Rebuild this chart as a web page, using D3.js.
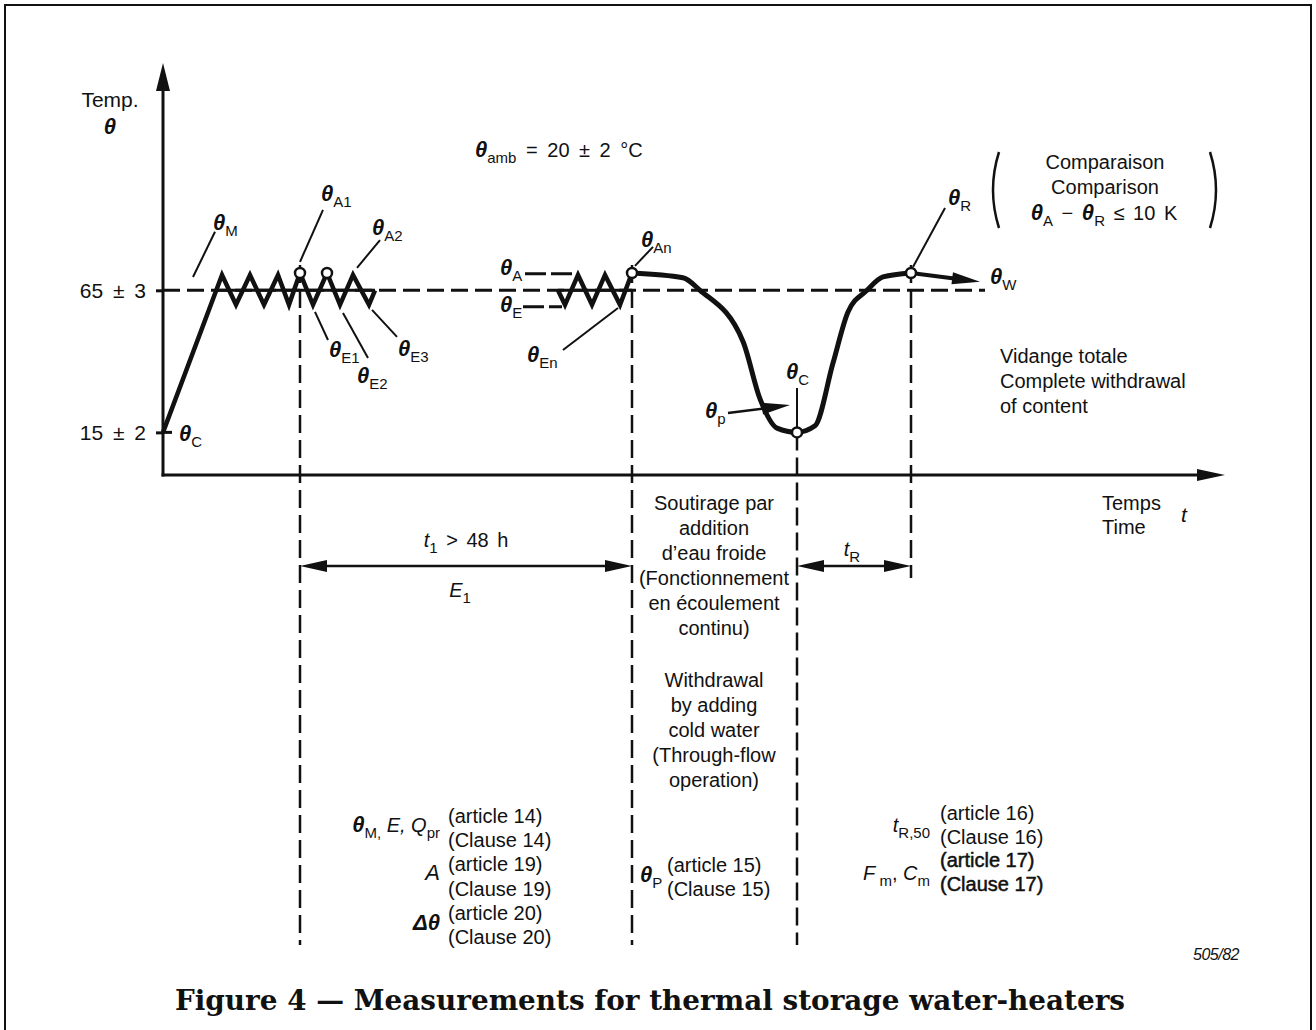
<!DOCTYPE html>
<html>
<head>
<meta charset="utf-8">
<script src="https://cdn.jsdelivr.net/npm/d3@7"></script>
<style>
    body { margin: 0; background: #fff; }
    text { font-family: "Liberation Sans", Arial, sans-serif; fill: #111; }
</style>
</head>
<body>
<svg id="chart" width="1316" height="1030"></svg>
<script>
// Levels marked on the temperature axis
const levelValues = [65, 15];
const levelLabels = ["65 ± 3", "15 ± 2"];

// Heating up from cold water, then thermostat cycling (time in arbitrary units, temp in °C)
const heatTime = [0, 5.9, 7.3, 8.7, 10.1, 11.5, 12.6, 13.7, 15.0, 16.4, 17.7, 19.0, 20.6, 21.2];
const heatTemp = [15, 70.4, 59.9, 70.4, 59.9, 70.4, 59.9, 71.1, 59.9, 71.1, 59.9, 70.4, 59.9, 65];

// Last cycles before the draw-off (after t1 > 48 h)
const cycleTime = [39.5, 40.2, 41.5, 42.9, 44.2, 45.7, 46.9];
const cycleTemp = [65, 59.9, 70.4, 59.9, 70.4, 59.9, 71.1];

// Draw-off by adding cold water, then recovery
const drawTime = [46.9, 52.0, 53.7, 58.0, 59.7, 61.4, 63.4, 65.2, 67.0, 68.5, 70.4, 72.0, 74.8];
const drawTemp = [71.1, 69.4, 65, 47.0, 26.8, 16.5, 15, 17.3, 39.4, 57.4, 65, 69.7, 71.1];

// theta W continuation
const tailTime = [74.8, 81.7];
const tailTemp = [71.1, 68.0];

// Measured points (circles)
const markTime = [13.7, 16.4, 46.9, 74.8, 63.4];
const markTemp = [71.1, 71.1, 71.1, 71.1, 15];

// Reference instants (vertical dashed lines): start temperature, long or short
const eventTime = [13.7, 46.9, 63.4, 74.8];
const eventFrom = [73.9, 73.9, 15, 73.9];
const eventLong = [true, true, true, false];

const svg = d3.select("#chart");
const ink = "#111";

const x = d3.scaleLinear().domain([0, 106.2]).range([163, 1225]);
const y = d3.scaleLinear().domain([0, 145]).range([475, 63]);

const bottomY = 945;   // lower end of the long reference lines
const dimY = 566;      // dimension arrows
const shortY = 578;    // lower end of the t_R line

// frame
svg.append("path")
    .attr("d", "M5,1030V5H1311V1030")
    .attr("fill", "none").attr("stroke", ink).attr("stroke-width", 2);

function head(g, tx, ty, ang, len, half) {
    const ca = Math.cos(ang), sa = Math.sin(ang);
    const bx = tx - len * ca, by = ty - len * sa;
    g.append("path")
        .attr("d", `M${tx},${ty}L${bx - half * sa},${by + half * ca}L${bx + half * sa},${by - half * ca}Z`)
        .attr("fill", ink);
}

/**
 * text made of segments: [string, kind] with kind "" | "sym" | "it" | "sub"
 */
function rich(g, px, py, segs, anchor = "start", size = 20) {
    const t = g.append("text")
        .attr("x", px).attr("y", py)
        .attr("text-anchor", anchor)
        .style("font-size", size + "px");
    let shift = 0;
    segs.forEach(([str, kind]) => {
        const sp = t.append("tspan").text(str);
        const want = kind === "sub" ? 6 : 0;
        if (want !== shift) {
            sp.attr("dy", want - shift);
            shift = want;
        }
        if (kind === "sym") sp.style("font-weight", "bold").style("font-style", "italic").style("font-size", (size + 2) + "px");
        if (kind === "it") sp.style("font-style", "italic");
        if (kind === "sub") sp.style("font-size", Math.round(size * 0.75) + "px");
    });
    return t;
}

const g = svg.append("g");

// axes
g.append("line")
    .attr("x1", x(0)).attr("x2", x(0))
    .attr("y1", y(0) + 1.5).attr("y2", y(145) + 20)
    .attr("stroke", ink).attr("stroke-width", 3);
head(g, x(0), y(145), -Math.PI / 2, 28, 7);

g.append("line")
    .attr("x1", x(0) - 1.5).attr("x2", x(106.2) - 20)
    .attr("y1", y(0)).attr("y2", y(0))
    .attr("stroke", ink).attr("stroke-width", 3);
head(g, x(106.2), y(0), 0, 28, 6);

const yAxis = d3.axisLeft(y)
    .tickValues(levelValues)
    .tickFormat((d, i) => levelLabels[i])
    .tickSize(7)
    .tickPadding(10);
const ga = g.append("g").attr("transform", `translate(${x(0)},0)`).call(yAxis);
ga.select(".domain").remove();
ga.selectAll(".tick line").attr("stroke", ink).attr("stroke-width", 3);
ga.selectAll(".tick text")
    .attr("fill", ink)
    .style("font-family", '"Liberation Sans", Arial, sans-serif')
    .style("font-size", "21px")
    .style("word-spacing", "4px");
// tick at 15 crosses the axis
g.append("line")
    .attr("x1", x(0)).attr("x2", x(0) + 9)
    .attr("y1", y(15)).attr("y2", y(15))
    .attr("stroke", ink).attr("stroke-width", 3);

// 65 level, dashed
g.append("line")
    .attr("x1", x(0)).attr("x2", x(82.2))
    .attr("y1", y(65)).attr("y2", y(65))
    .attr("stroke", ink).attr("stroke-width", 3)
    .attr("stroke-dasharray", "17,7");
[[5.2, 21.2], [39.5, 46.9]].forEach(([a, b]) => {
    g.append("line")
        .attr("x1", x(a)).attr("x2", x(b))
        .attr("y1", y(65)).attr("y2", y(65))
        .attr("stroke", ink).attr("stroke-width", 3);
});

// reference lines
eventTime.forEach((t, i) => {
    g.append("line")
        .attr("x1", x(t)).attr("x2", x(t))
        .attr("y1", y(eventFrom[i])).attr("y2", eventLong[i] ? bottomY : shortY)
        .attr("stroke", ink).attr("stroke-width", 2.5)
        .attr("stroke-dasharray", "18,7");
});

// curves
const straight = d3.line().x(d => x(d[0])).y(d => y(d[1]));
const smooth = d3.line().x(d => x(d[0])).y(d => y(d[1])).curve(d3.curveMonotoneX);

g.append("path")
    .attr("d", straight(d3.zip(heatTime, heatTemp)))
    .attr("fill", "none").attr("stroke", ink).attr("stroke-width", 4.5)
    .attr("stroke-linejoin", "miter");
g.append("path")
    .attr("d", straight(d3.zip(cycleTime, cycleTemp)))
    .attr("fill", "none").attr("stroke", ink).attr("stroke-width", 4.5)
    .attr("stroke-linejoin", "miter");
g.append("path")
    .attr("d", smooth(d3.zip(drawTime, drawTemp)))
    .attr("fill", "none").attr("stroke", ink).attr("stroke-width", 5)
    .attr("stroke-linecap", "round");

// theta W arrow
{
    const x1 = x(tailTime[0]), y1 = y(tailTemp[0]);
    const x2 = x(tailTime[1]), y2 = y(tailTemp[1]);
    const ang = Math.atan2(y2 - y1, x2 - x1);
    g.append("line")
        .attr("x1", x1).attr("y1", y1)
        .attr("x2", x2 - 20 * Math.cos(ang)).attr("y2", y2 - 20 * Math.sin(ang))
        .attr("stroke", ink).attr("stroke-width", 4);
    head(g, x2, y2, ang, 28, 6);
}

// measured points
g.selectAll("circle.mark")
    .data(d3.zip(markTime, markTemp))
    .join("circle")
    .attr("class", "mark")
    .attr("cx", d => x(d[0])).attr("cy", d => y(d[1]))
    .attr("r", 5)
    .attr("fill", "#fff").attr("stroke", ink).attr("stroke-width", 2.5);

// leader lines [t1, v1, t2, v2]
const leaders = [
    [3.0, 69.7, 5.2, 85.6],
    [13.7, 75.0, 16.0, 93.3],
    [19.4, 72.9, 21.7, 82.7],
    [15.2, 57.4, 16.5, 47.5],
    [18.0, 57.0, 20.5, 41.2],
    [20.9, 58.1, 23.4, 48.6],
    [45.5, 58.8, 40.0, 44.0],
    [47.2, 73.6, 49.0, 80.3],
    [75.0, 73.2, 78.2, 94.0],
    [63.4, 30.6, 63.4, 16.9]
];
leaders.forEach(([a, b, c, d]) => {
    g.append("line")
        .attr("x1", x(a)).attr("y1", y(b))
        .attr("x2", x(c)).attr("y2", y(d))
        .attr("stroke", ink).attr("stroke-width", 2);
});

// theta p arrow
{
    const x1 = x(56.5), y1 = y(21.8), x2 = x(62.7), y2 = y(24.6);
    const ang = Math.atan2(y2 - y1, x2 - x1);
    g.append("line")
        .attr("x1", x1).attr("y1", y1)
        .attr("x2", x2 - 20 * Math.cos(ang)).attr("y2", y2 - 20 * Math.sin(ang))
        .attr("stroke", ink).attr("stroke-width", 2.5);
    head(g, x2, y2, ang, 28, 6);
}

// theta A / theta E level dashes
[[36.2, 40.9, 70.8], [36.0, 39.9, 59.2]].forEach(([a, b, v]) => {
    g.append("line")
        .attr("x1", x(a)).attr("x2", x(b))
        .attr("y1", y(v)).attr("y2", y(v))
        .attr("stroke", ink).attr("stroke-width", 3)
        .attr("stroke-dasharray", "21,5");
});

// dimension arrows
function dim(t1, t2) {
    g.append("line")
        .attr("x1", x(t1) + 20).attr("x2", x(t2) - 20)
        .attr("y1", dimY).attr("y2", dimY)
        .attr("stroke", ink).attr("stroke-width", 2.5);
    head(g, x(t1), dimY, Math.PI, 27, 6);
    head(g, x(t2), dimY, 0, 27, 6);
}
dim(13.7, 46.9);
dim(63.4, 74.8);

// labels
g.append("text").attr("x", 110).attr("y", 107).attr("text-anchor", "middle").style("font-size", "21px").text("Temp.");
rich(g, 110, 134, [["θ", "sym"]], "middle");

rich(g, 475, 157, [["θ", "sym"], ["amb", "sub"], [" = 20 ± 2 °C", ""]]).style("word-spacing", "4px");

rich(g, 213, 230, [["θ", "sym"], ["M", "sub"]]);
rich(g, 321, 201, [["θ", "sym"], ["A1", "sub"]]);
rich(g, 372, 235, [["θ", "sym"], ["A2", "sub"]]);
rich(g, 329, 357, [["θ", "sym"], ["E1", "sub"]]);
rich(g, 357, 383, [["θ", "sym"], ["E2", "sub"]]);
rich(g, 398, 356, [["θ", "sym"], ["E3", "sub"]]);
rich(g, 179, 441, [["θ", "sym"], ["C", "sub"]]);
rich(g, 500, 275, [["θ", "sym"], ["A", "sub"]]);
rich(g, 500, 312, [["θ", "sym"], ["E", "sub"]]);
rich(g, 527, 362, [["θ", "sym"], ["En", "sub"]]);
rich(g, 641, 247, [["θ", "sym"], ["An", "sub"]]);
rich(g, 705, 418, [["θ", "sym"], ["p", "sub"]]);
rich(g, 786, 379, [["θ", "sym"], ["C", "sub"]]);
rich(g, 948, 205, [["θ", "sym"], ["R", "sub"]]);
rich(g, 990, 284, [["θ", "sym"], ["W", "sub"]]);

// comparison block with brackets
[[993, 1], [1216, -1]].forEach(([px, s]) => {
    g.append("path")
        .attr("d", `M${px + 6 * s},152Q${px - 6 * s},190 ${px + 6 * s},228`)
        .attr("fill", "none").attr("stroke", ink).attr("stroke-width", 2.5);
});
g.append("text").attr("x", 1105).attr("y", 169).attr("text-anchor", "middle").style("font-size", "20px").text("Comparaison");
g.append("text").attr("x", 1105).attr("y", 194).attr("text-anchor", "middle").style("font-size", "20px").text("Comparison");
rich(g, 1104, 220, [["θ", "sym"], ["A", "sub"], [" − ", ""], ["θ", "sym"], ["R", "sub"], [" ≤ 10 K", ""]], "middle")
    .style("word-spacing", "3px");

["Vidange totale", "Complete withdrawal", "of content"].forEach((s, i) => {
    g.append("text").attr("x", 1000).attr("y", 363 + i * 25).style("font-size", "20px").text(s);
});

g.append("text").attr("x", 1102).attr("y", 510).style("font-size", "20px").text("Temps");
g.append("text").attr("x", 1102).attr("y", 534).style("font-size", "20px").text("Time");
g.append("text").attr("x", 1181).attr("y", 522).style("font-size", "21px").style("font-style", "italic").text("t");

rich(g, 466, 547, [["t", "it"], ["1", "sub"], [" > 48 h", ""]], "middle").style("word-spacing", "3px");
rich(g, 460, 597, [["E", "it"], ["1", "sub"]], "middle");
rich(g, 852, 556, [["t", "it"], ["R", "sub"]], "middle");

const midFr = ["Soutirage par", "addition", "d’eau froide", "(Fonctionnement", "en écoulement", "continu)"];
const midEn = ["Withdrawal", "by adding", "cold water", "(Through-flow", "operation)"];
midFr.forEach((s, i) => {
    g.append("text").attr("x", 714).attr("y", 510 + i * 25).attr("text-anchor", "middle").style("font-size", "20px").text(s);
});
midEn.forEach((s, i) => {
    g.append("text").attr("x", 714).attr("y", 687 + i * 25).attr("text-anchor", "middle").style("font-size", "20px").text(s);
});

// clause references
const refLeft = ["(article 14)", "(Clause 14)", "(article 19)", "(Clause 19)", "(article 20)", "(Clause 20)"];
refLeft.forEach((s, i) => {
    g.append("text").attr("x", 448).attr("y", 823 + i * 24.2).style("font-size", "20px").text(s);
});
rich(g, 440, 832, [["θ", "sym"], ["M,", "sub"], [" E, ", "it"], ["Q", "it"], ["pr", "sub"]], "end");
rich(g, 440, 880, [["A", "it"]], "end").style("font-size", "22px");
g.append("text").attr("x", 440).attr("y", 930).attr("text-anchor", "end")
    .style("font-size", "22px").style("font-weight", "bold").style("font-style", "italic").text("Δθ");

g.append("text").attr("x", 667).attr("y", 872).style("font-size", "20px").text("(article 15)");
g.append("text").attr("x", 667).attr("y", 896).style("font-size", "20px").text("(Clause 15)");
rich(g, 640, 882, [["θ", "sym"], ["P", "sub"]]);

const refRight = ["(article 16)", "(Clause 16)", "(article 17)", "(Clause 17)"];
refRight.forEach((s, i) => {
    const t = g.append("text").attr("x", 940).attr("y", 820 + i * 23.5).style("font-size", "20px").text(s);
    if (i > 1) t.attr("stroke", ink).attr("stroke-width", 0.5);
});
rich(g, 930, 832, [["t", "it"], ["R,50", "sub"]], "end");
rich(g, 930, 880, [["F", "it"], [" m", "sub"], [", ", ""], ["C", "it"], ["m", "sub"]], "end");

g.append("text").attr("x", 1193).attr("y", 960)
    .style("font-size", "16px").style("font-style", "italic").style("letter-spacing", "-0.5px").text("505/82");

// caption
svg.append("text")
    .attr("x", 650).attr("y", 1010)
    .attr("text-anchor", "middle")
    .attr("textLength", 950)
    .attr("lengthAdjust", "spacingAndGlyphs")
    .style("font-family", '"DejaVu Serif", "Liberation Serif", serif')
    .style("font-weight", "bold")
    .style("font-size", "27px")
    .text("Figure 4 — Measurements for thermal storage water-heaters");
</script>
</body>
</html>
